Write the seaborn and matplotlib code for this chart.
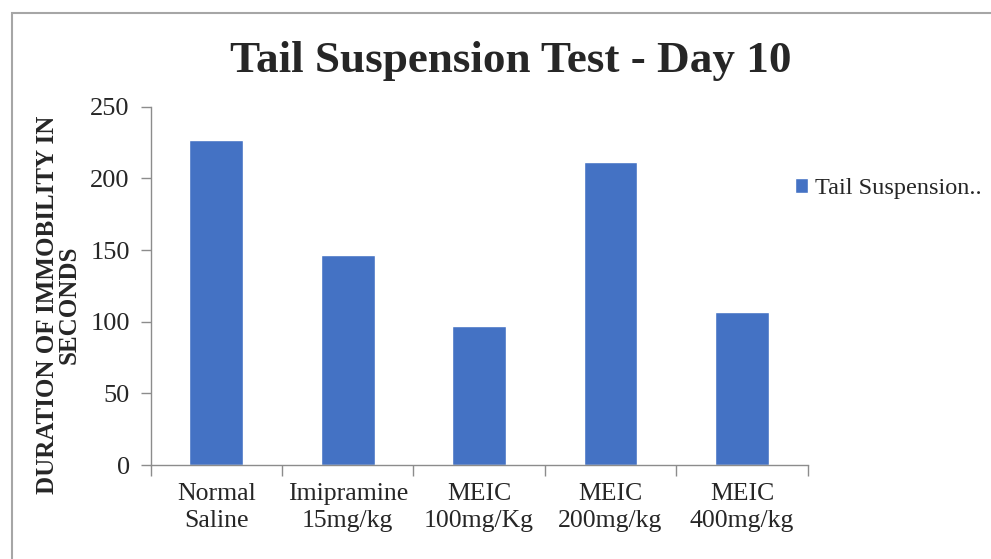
import numpy as np
import pandas as pd
import matplotlib
matplotlib.use("Agg")
import matplotlib.pyplot as plt
import seaborn as sns
from matplotlib.patches import Rectangle

# 数据
groups = ["Normal\nSaline", "Imipramine\n15mg/kg", "MEIC\n100mg/Kg", "MEIC\n200mg/kg", "MEIC\n400mg/kg"]
immobility = [227, 146.5, 97, 211.5, 107]
y_ticks = [0, 50, 100, 150, 200, 250]
series_name = "Tail Suspension.."

sns.set_theme(style="white")
plt.rcParams["font.family"] = ["Liberation Serif", "DejaVu Serif"]

df = pd.DataFrame({"group": groups, "value": immobility, "series": series_name})

fig = plt.figure(figsize=(9.91, 5.59), dpi=100)
ax = fig.add_axes([0.152, 0.168, 0.663, 0.641])

sns.barplot(data=df, x="group", y="value", hue="series", palette=["#4472C4"],
            width=0.41, ax=ax, saturation=1)

ax.set_ylim(0, 250)
ax.set_yticks(y_ticks)
ax.set_xlim(-0.5, len(groups) - 0.5)
ax.tick_params(axis="y", labelsize=19, length=7, width=1, color="#8c8c8c", direction="out", left=True, pad=8)
ax.tick_params(axis="x", which="major", labelsize=18.5, length=0, pad=13)
for lbl in ax.get_xticklabels():
    lbl.set_linespacing(1.3)
ax.set_xticks(np.arange(-0.5, len(groups), 1), minor=True)
ax.tick_params(axis="x", which="minor", length=8, width=1, color="#8c8c8c", bottom=True)

for side in ["top", "right"]:
    ax.spines[side].set_visible(False)
for side in ["left", "bottom"]:
    ax.spines[side].set_color("#8c8c8c")
    ax.spines[side].set_linewidth(1)

ax.set_xlabel("")
ax.set_ylabel("DURATION OF IMMOBILITY IN\nSECONDS", fontsize=18, fontweight="bold",
              linespacing=0.95)
ax.yaxis.set_label_coords(-0.106, 0.447)

fig.suptitle("Tail Suspension Test - Day 10", fontsize=32.5, fontweight="bold",
             x=0.515, y=0.89, va="center")

ax.legend(loc="center left", bbox_to_anchor=(0.98, 0.772), frameon=False, fontsize=17.5,
          handlelength=0.55, handleheight=0.55, handletextpad=0.3,
          borderaxespad=0, borderpad=0)

fig.patches.append(Rectangle((12 / 991, -0.01), 1.0, 1 - 13 / 559 + 0.01, transform=fig.transFigure,
                             fill=False, edgecolor="#a6a6a6", linewidth=1.5))

fig.savefig("out.png", dpi=100)
